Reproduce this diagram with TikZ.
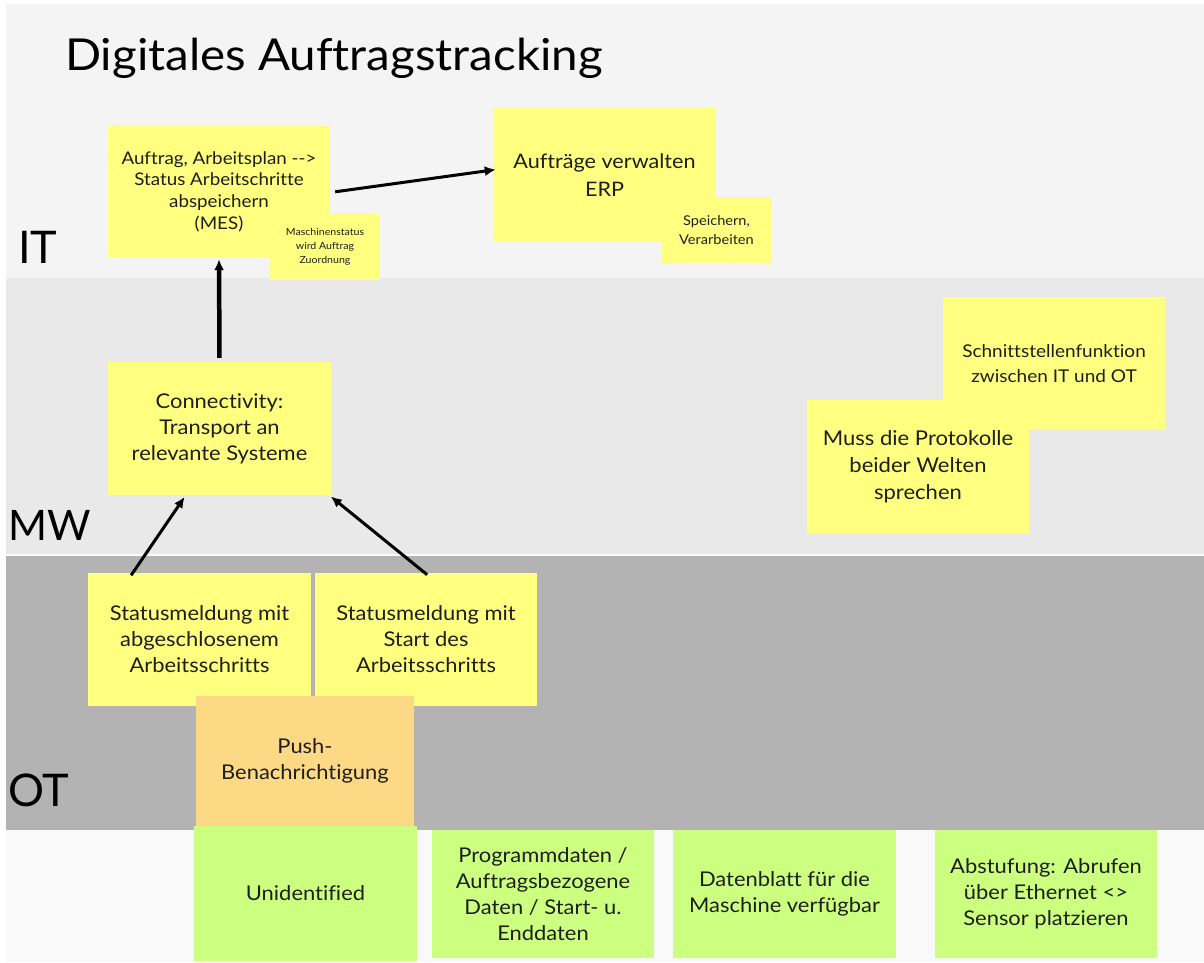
\documentclass[tikz,border=0pt]{standalone}
\usepackage{fontspec}
\setmainfont{Lato}[FakeStretch=1.08, Ligatures=CommonOff]
\newfontfamily\lanefont{Lato}[Ligatures=CommonOff]
\usetikzlibrary{arrows.meta}

\definecolor{bandIT}{HTML}{F4F4F4}
\definecolor{bandMW}{HTML}{E9E9E9}
\definecolor{bandOT}{HTML}{B3B3B3}
\definecolor{bandLow}{HTML}{F9F9F9}
\definecolor{noteYellow}{HTML}{FFFF80}
\definecolor{noteOrange}{HTML}{FDD985}
\definecolor{noteGreen}{HTML}{CCFF80}
\definecolor{ink}{HTML}{1E1E1E}

\tikzset{
  note/.style={rectangle, inner sep=0pt, align=center, text=ink, fill=noteYellow},
  body/.style={font=\fontsize{20.3}{26}\selectfont},
  lane/.style={anchor=base west, text=black, inner sep=0pt, font=\lanefont\fontsize{45}{50}\selectfont},
  flow/.style={draw=black, line width=3pt, -{Latex[length=11pt,width=10pt]}},
}

\begin{document}
\begin{tikzpicture}[x=1pt,y=-1pt]
\useasboundingbox (0,0) rectangle (1204,962);
\fill[white] (0,0) rectangle (1204,962);

% swim lanes
\fill[bandIT]  (6,4)   rectangle (1204,278);
\fill[bandMW]  (6,278) rectangle (1204,554);
\fill[bandOT]  (6,556) rectangle (1204,830);
\fill[bandLow] (6,830) rectangle (1204,962);

% lane titles
\node[lane, font=\fontsize{44}{50}\selectfont] (title) at (65,70) {Digitales Auftragstracking};
\node[lane] (it) at (18,263) {IT};
\node[lane, font=\lanefont\fontsize{42}{50}\selectfont] (mw) at (8,540) {MW};
\node[lane] (ot) at (8,806) {OT};

% IT layer
\node[note, font=\fontsize{17.4}{21.7}\selectfont, minimum width=222pt, minimum height=133pt] (mes) at (219,191.5)
  {Auftrag, Arbeitsplan -\kern0pt->\\Status Arbeitschritte\\abspeichern\\(MES)};
\node[note, font=\fontsize{9.8}{14}\selectfont, minimum width=110pt, minimum height=67pt] (mstat) at (325,246.5)
  {Maschinenstatus\\wird Auftrag\\Zuordnung};
\node[note, font=\fontsize{20}{28}\selectfont, minimum width=223pt, minimum height=134pt] (erp) at (604.5,175)
  {Aufträge verwalten\\ERP};
\node[note, font=\fontsize{13.5}{19}\selectfont, minimum width=109pt, minimum height=66pt] (store) at (716.5,230)
  {Speichern,\\Verarbeiten};

% middleware layer
\node[note, body, minimum width=223pt, minimum height=133pt] (conn) at (219.5,428.5)
  {Connectivity:\\Transport an\\relevante Systeme};
\node[note, font=\fontsize{17.6}{25}\selectfont, minimum width=222pt, minimum height=133pt] (iface) at (1054,363.5)
  {Schnittstellenfunktion\\zwischen IT und OT};
\node[note, font=\fontsize{20.4}{27}\selectfont, minimum width=222pt, minimum height=134pt] (proto) at (918,467)
  {Muss die Protokolle\\beider Welten\\sprechen};

% OT layer
\node[note, body, minimum width=223pt, minimum height=133pt] (done) at (199.5,639.5)
  {Statusmeldung mit\\abgeschlosenem\\Arbeitsschritts};
\node[note, body, minimum width=222pt, minimum height=133pt] (start) at (426,639.5)
  {Statusmeldung mit\\Start des\\Arbeitsschritts};
\node[note, body, fill=noteOrange, minimum width=218pt, minimum height=130pt] (push) at (305,761)
  {Push-\\Benachrichtigung};

% data sources
\node[note, body, fill=noteGreen, minimum width=223pt, minimum height=135pt] (unid) at (305.5,893.5)
  {Unidentified};
\node[note, body, fill=noteGreen, minimum width=222pt, minimum height=128pt] (prog) at (543,894)
  {Programmdaten /\\Auftragsbezogene\\Daten / Start- u.\\Enddaten};
\node[note, body, fill=noteGreen, minimum width=223pt, minimum height=128pt] (sheet) at (784.5,894)
  {Datenblatt für die\\Maschine verfügbar};
\node[note, body, fill=noteGreen, minimum width=222pt, minimum height=128pt] (level) at (1046,894)
  {Abstufung: Abrufen\\über Ethernet <>\\Sensor platzieren};

% connectors
\draw[flow, shorten <=5pt, shorten >=-3pt] ([yshift=-1pt]mes.east) -- ([yshift=5pt]erp.west);
\draw[flow, line width=4.5pt, shorten <=4pt, shorten >=1pt] (conn.north) -- (mes.south);
\draw[flow, shorten <=-3pt, shorten >=2pt] ([xshift=45pt]done.north west) -- ([xshift=78pt]conn.south west);
\draw[flow, shorten <=-3pt, shorten >=2pt] ([xshift=110pt]start.north west) -- ([xshift=-2pt]conn.south east);
\end{tikzpicture}
\end{document}
